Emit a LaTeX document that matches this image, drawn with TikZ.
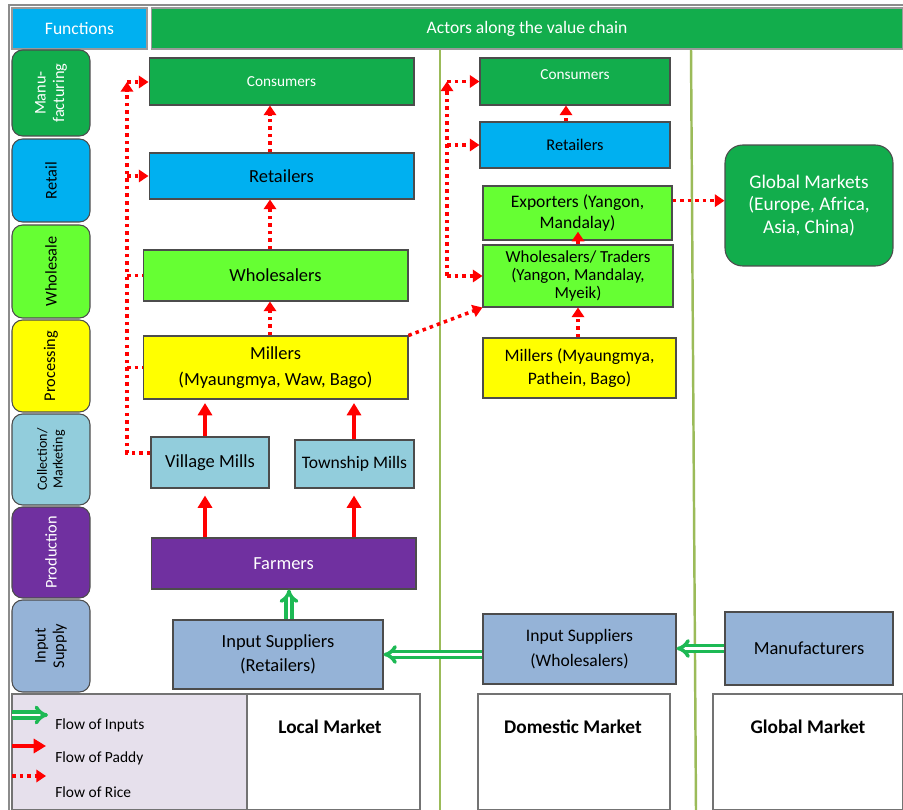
\documentclass[tikz,border=0pt]{standalone}
\usepackage{fontspec}
\setmainfont{Carlito}
\usetikzlibrary{arrows.meta}
\definecolor{actgreen}{HTML}{12AD4C}
\definecolor{skyblue}{HTML}{00B0F0}
\definecolor{limegreen}{HTML}{66FF33}
\definecolor{millyellow}{HTML}{FFFF00}
\definecolor{millblue}{HTML}{92CDDC}
\definecolor{farmpurple}{HTML}{7030A0}
\definecolor{supplyblue}{HTML}{95B3D7}
\definecolor{legendlilac}{HTML}{E6E0EC}
\definecolor{linegreen}{HTML}{9BBB59}
\definecolor{inputgreen}{HTML}{1DB954}
\tikzset{
  sz/.style 2 args={minimum width=#1cm, minimum height=#2cm},
  box/.style={draw=black!70, line width=0.6pt, inner sep=0pt, align=center,
    font=\fontsize{10.5}{13}\selectfont},
  fnbox/.style={draw=black!70, line width=0.6pt, inner sep=0pt, rounded corners=6pt,
    sz={1.56}{1.8}},
  fnlabel/.style={rotate=90, align=center, inner sep=0pt, font=\fontsize{9.3}{10.5}\selectfont},
  mktbox/.style={draw=black!55, line width=0.6pt, inner sep=0pt, fill=white},
  mktlabel/.style={font=\fontsize{11}{13}\selectfont\bfseries},
  legtext/.style={anchor=west, inner sep=0pt, font=\fontsize{8.8}{10}\selectfont},
  rice/.style={red, line width=2pt, dash pattern=on 2pt off 2.3pt,
    -{Triangle[length=5.5pt,width=7pt]}},
  paddy/.style={red, line width=2.4pt, -{Triangle[length=7pt,width=8pt]}},
  inputs/.style={draw=inputgreen, double=white, double distance=1.3pt, line width=2pt,
    -{Implies}},
  divider/.style={linegreen, line width=1.4pt}
}
\begin{document}
\begin{tikzpicture}[x=0.02cm,y=-0.02cm]
\useasboundingbox (0,0) rectangle (903,810);
% frame and column dividers
\draw[black!45, line width=0.8pt] (9,810) -- (9,5) -- (903,5);
\draw[divider] (440,49) -- (440,810);
\draw[divider] (691,49) -- (696,810);

% header
\node[box, sz={2.7}{0.82}, fill=skyblue, draw=black!40, text=white,
  font=\fontsize{10}{12}\selectfont] (fnhead) at (79.5,28.5) {Functions};
\node[box, sz={15.04}{0.82}, fill=actgreen, draw=black!40, text=white,
  font=\fontsize{10}{12}\selectfont] (acthead) at (527,28.5) {Actors along the value chain};

% functions
\node[fnbox, sz={1.56}{1.72}, fill=actgreen,
  label={[fnlabel, text=white]center:Manu-\\facturing}] (fman) at (51,93) {};
\node[fnbox, sz={1.56}{1.66}, fill=skyblue,
  label={[fnlabel]center:Retail}] (fret) at (51,180.5) {};
\node[fnbox, sz={1.56}{1.86}, fill=limegreen,
  label={[fnlabel]center:Wholesale}] (fwhole) at (51,271.5) {};
\node[fnbox, sz={1.56}{1.84}, fill=millyellow,
  label={[fnlabel]center:Processing}] (fproc) at (51,366) {};
\node[fnbox, sz={1.56}{1.82}, fill=millblue,
  label={[fnlabel, font=\fontsize{8}{9}\selectfont]center:Collection/\\Marketing}] (fcoll) at (51,459.5) {};
\node[fnbox, sz={1.56}{1.82}, fill=farmpurple,
  label={[fnlabel, text=white]center:Production}] (fprod) at (51,552.5) {};
\node[fnbox, sz={1.56}{1.84}, fill=supplyblue,
  label={[fnlabel]center:Input\\Supply}] (finput) at (51,646) {};

% markets and legend
\node[mktbox, sz={4.7}{2.32}, fill=legendlilac] (legend) at (129.5,752) {};
\node[mktbox, sz={3.46}{2.32}] (lmkt) at (333.5,752) {};
\node[mktbox, sz={3.84}{2.32}] (dmkt) at (574,752) {};
\node[mktbox, sz={3.8}{2.32}] (gmkt) at (808,752) {};
\node[mktlabel] (lmkttext) at (330,727) {Local Market};
\node[mktlabel] (dmkttext) at (573,727) {Domestic Market};
\node[mktlabel] (gmkttext) at (808,727) {Global Market};

% local actors
\node[box, sz={5.3}{0.94}, fill=actgreen, text=white,
  font=\fontsize{8.7}{10}\selectfont] (lcons) at (281.5,81.5) {Consumers};
\node[box, sz={5.3}{0.92}, fill=skyblue] (lret) at (281.5,176) {Retailers};
\node[box, sz={5.3}{1.02}, fill=limegreen] (lwhole) at (275.5,275.5) {Wholesalers};
\node[box, sz={5.3}{1.26}, fill=millyellow,
  font=\fontsize{10.5}{15}\selectfont] (lmill) at (275.5,367.5) {Millers\\(Myaungmya, Waw, Bago)};
\node[box, sz={2.36}{1.02}, fill=millblue] (lvil) at (210,462.5) {Village Mills};
\node[box, sz={2.38}{0.96}, fill=millblue,
  font=\fontsize{10}{12}\selectfont] (ltown) at (354.5,464) {Township Mills};
\node[box, sz={5.3}{1.02}, fill=farmpurple, text=white] (lfarm) at (283.5,563.5) {Farmers};
\node[box, sz={4.2}{1.38}, fill=supplyblue,
  font=\fontsize{10.5}{14}\selectfont] (linsup) at (278,654.5) {Input Suppliers\\(Retailers)};

% domestic actors
\node[box, sz={3.8}{0.94}, fill=actgreen, text=white, text depth=8pt,
  font=\fontsize{8.7}{10}\selectfont] (dcons) at (575,81.5) {Consumers};
\node[box, sz={3.8}{0.92}, fill=skyblue,
  font=\fontsize{9.3}{11}\selectfont] (dret) at (575,145) {Retailers};
\node[box, sz={3.78}{1.08}, fill=limegreen,
  font=\fontsize{10}{11.5}\selectfont] (dexp) at (577.5,213) {Exporters (Yangon,\\Mandalay)};
\node[box, sz={3.8}{1.24}, fill=limegreen,
  font=\fontsize{9.6}{10}\selectfont] (dwhole) at (578,276) {Wholesalers/ Traders\\(Yangon, Mandalay,\\Myeik)};
\node[box, sz={3.86}{1.2}, fill=millyellow,
  font=\fontsize{10}{13}\selectfont] (dmill) at (579.5,368) {Millers (Myaungmya,\\Pathein, Bago)};
\node[box, sz={3.86}{1.4}, fill=supplyblue,
  font=\fontsize{10}{14}\selectfont] (dinsup) at (579.5,649) {Input Suppliers\\(Wholesalers)};

% global actors
\node[box, sz={3.36}{2.42}, fill=actgreen, text=white, rounded corners=10pt,
  font=\fontsize{11}{13}\selectfont] (gmark) at (809,205.5) {Global Markets\\(Europe, Africa,\\Asia, China)};
\node[box, sz={3.36}{1.46}, fill=supplyblue] (gmanu) at (809,648.5) {Manufacturers};

% helper coordinates
\coordinate (xloc) at (270,0);
\coordinate (xvil) at (205,0);
\coordinate (xtown) at (354,0);
\coordinate (xin) at (289,0);
\coordinate (xdret) at (566,0);
\coordinate (xdup) at (578,0);
\coordinate (lturn) at (127,453);
\coordinate (ltop) at (127,82);
\coordinate (xdom) at (447,0);

% flow of rice, local
\draw[rice] (lret.north -| xloc) -- (lcons.south -| xloc);
\draw[rice] (lwhole.north -| xloc) -- (lret.south -| xloc);
\draw[rice] (lmill.north -| xloc) -- (lwhole.south -| xloc);
\draw[rice] (lturn -| lvil.west) -- (lturn) -- (ltop);
\draw[rice] (ltop) -- (ltop -| lcons.west);
\draw[rice] (lret.west -| ltop) -- (lret.west);
\draw[rice, -] (lwhole.west -| ltop) -- (lwhole.west);
\draw[rice, -] (lmill.west -| ltop) -- (lmill.west);
\draw[rice] (lmill.north east) -- (dwhole.south west);

% flow of rice, domestic
\draw[rice] (dwhole.west -| xdom) -- (dcons.west -| xdom);
\draw[rice] (dcons.west -| xdom) -- (dcons.west);
\draw[rice] (dret.west -| xdom) -- (dret.west);
\draw[rice] (dwhole.west -| xdom) -- (dwhole.west);
\draw[rice] (dret.north -| xdret) -- (dcons.south -| xdret);
\draw[rice, shorten >=-5pt] (dwhole.north -| xdup) -- (dexp.south -| xdup);
\draw[rice] (dmill.north -| xdup) -- (dwhole.south -| xdup);
\draw[rice] ([yshift=7pt]dexp.east) -- ([yshift=7pt]dexp.east -| gmark.west);

% flow of paddy
\draw[paddy, shorten >=2pt] (lvil.north -| xvil) -- (lmill.south -| xvil);
\draw[paddy, shorten >=2pt] (ltown.north -| xtown) -- (lmill.south -| xtown);
\draw[paddy, shorten >=4pt] (lfarm.north -| xvil) -- (lvil.south -| xvil);
\draw[paddy, shorten >=4pt] (lfarm.north -| xtown) -- (ltown.south -| xtown);

% flow of inputs
\draw[inputs] (linsup.north -| xin) -- (lfarm.south -| xin);
\draw[inputs] (linsup.east -| dinsup.west) -- (linsup.east);
\draw[inputs] (gmanu.west) -- (gmanu.west -| dinsup.east);

% legend
\coordinate (leginA) at (12,715);
\coordinate (leginB) at (48,715);
\coordinate (legpaA) at (12,746);
\coordinate (legpaB) at (46,746);
\coordinate (legriA) at (12,776);
\coordinate (legriB) at (46,776);
\draw[inputs] (leginA) -- (leginB);
\draw[paddy] (legpaA) -- (legpaB);
\draw[rice] (legriA) -- (legriB);
\node[legtext] (legin) at (55,725) {Flow of Inputs};
\node[legtext] (legpa) at (55,758) {Flow of Paddy};
\node[legtext] (legri) at (55,792) {Flow of Rice};
\end{tikzpicture}
\end{document}
